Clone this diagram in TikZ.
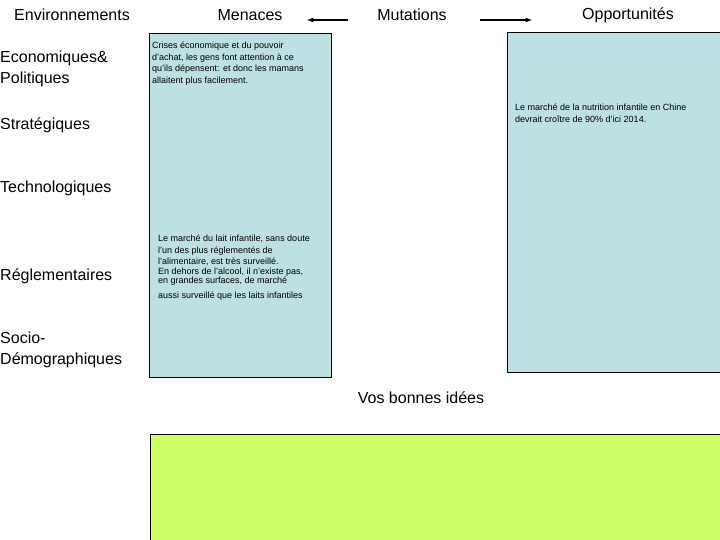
\documentclass[tikz,border=0pt]{standalone}
\usepackage{fontspec}
\setmainfont{Liberation Sans}
\begin{document}
\begin{tikzpicture}[x=1pt,y=-1pt,
  head/.style={font=\fontsize{16}{18}\selectfont,inner sep=0},
  lab/.style={font=\fontsize{16}{21}\selectfont,inner sep=0,anchor=west,align=left},
  small/.style={font=\fontsize{9}{11.5}\selectfont,inner sep=0,anchor=north west,align=left},
  bluebox/.style={draw=black,fill={rgb,255:red,189;green,224;blue,227}},
  arr/.style={-latex,line width=1.2pt}]
\useasboundingbox (0,0) rectangle (720,540);
\fill[white] (0,0) rectangle (720,540);
\draw[bluebox] (149,33) rectangle (331,377);
\draw[bluebox] (507,32) rectangle (721,372);
\draw[fill={rgb,255:red,204;green,255;blue,102},draw=black] (150,434) rectangle (721,541);
\node[head] (env) at (72,15) {Environnements};
\node[head] (men) at (250,15) {Menaces};
\node[head] (mut) at (412,15) {Mutations};
\node[head] (opp) at (628,15) {Opportunités};
\coordinate (a1) at (348,20); \coordinate (a2) at (307,20);
\coordinate (b1) at (480,20); \coordinate (b2) at (532,20);
\draw[arr] (a1) -- (a2);
\draw[arr] (b1) -- (b2);
\node[lab] (eco) at (0,69) {Economiques\&\\Politiques};
\node[lab] (str) at (0,125) {Stratégiques};
\node[lab] (tec) at (0,188) {Technologiques};
\node[lab] (reg) at (0,276) {Réglementaires};
\node[lab] (soc) at (0,350) {Socio-\\Démographiques};
\node[head] (vos) at (421,398) {Vos bonnes idées};
\node[small] (t1) at (152,42) {Crises économique et du pouvoir\\d'achat, les gens font attention à ce\\qu'ils dépensent: et donc les mamans\\allaitent plus facilement.};
\node[small] (t2) at (158,235) {Le marché du lait infantile, sans doute\\l'un des plus réglementés de\\l'alimentaire, est très surveillé.\\[-2pt]En dehors de l'alcool, il n'existe pas,\\[-2pt]en grandes surfaces, de marché\\[3pt]aussi surveillé que les laits infantiles};
\node[small] (t3) at (515,104) {Le marché de la nutrition infantile en Chine\\devrait croître de 90\% d'ici 2014.};
\end{tikzpicture}
\end{document}
